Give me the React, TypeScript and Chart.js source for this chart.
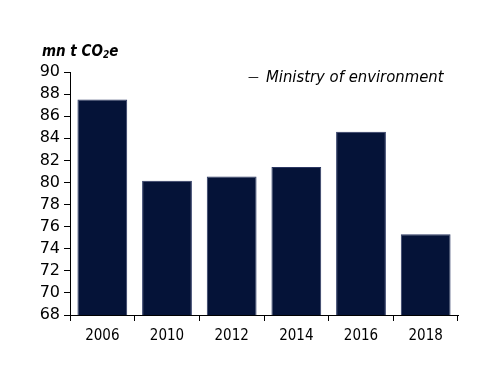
import React, { useEffect, useRef } from "react";
import { Chart, registerables } from "chart.js";

Chart.register(...registerables);

const categories = ["2006", "2010", "2012", "2014", "2016", "2018"];
const values = [87.5, 80.15, 80.55, 81.4, 84.6, 75.3];
const seriesName = "Ministry of environment";
const unitMain = "mn t CO";
const unitSub = "2";
const unitEnd = "e";
const yMin = 68;
const yMax = 90;
const yStep = 2;

const FONT = "'DejaVu Sans Condensed', 'DejaVu Sans', sans-serif";
const FONT_Y = "'DejaVu Sans', sans-serif";

const textPlugin = {
  id: "texts",
  afterDraw(chart: any) {
    const ctx = chart.ctx;
    ctx.save();
    ctx.fillStyle = "#000";
    ctx.textBaseline = "middle";
    ctx.textAlign = "left";
    // unit title
    let x = 42;
    const y = 52;
    ctx.font = `italic bold 15px ${FONT}`;
    ctx.fillText(unitMain, x, y);
    x += ctx.measureText(unitMain).width;
    ctx.font = `italic bold 10px ${FONT}`;
    ctx.fillText(unitSub, x, y + 3);
    x += ctx.measureText(unitSub).width;
    ctx.font = `italic bold 15px ${FONT}`;
    ctx.fillText(unitEnd, x, y);
    // legend
    ctx.font = `12px ${FONT}`;
    ctx.fillText("\u2014", 248, 78);
    ctx.font = `italic 16.5px ${FONT}`;
    ctx.fillText(seriesName, 266, 78);
    ctx.restore();
  },
};

export default function App() {
  const ref = useRef<HTMLCanvasElement>(null);
  useEffect(() => {
    if (!ref.current) return;
    const chart = new Chart(ref.current, {
      type: "bar",
      data: {
        labels: categories,
        datasets: [
          {
            label: seriesName,
            data: values,
            backgroundColor: "#051338",
            borderColor: "#2b3762",
            borderWidth: 1,
            barPercentage: 0.77,
            categoryPercentage: 1,
          },
        ],
      },
      options: {
        animation: false,
        responsive: false,
        layout: { padding: { left: 0, right: 42, top: 72, bottom: 41 } },
        plugins: {
          legend: { display: false },
          tooltip: { enabled: false },
        },
        scales: {
          x: {
            offset: true,
            grid: {
              offset: true,
              drawOnChartArea: false,
              drawTicks: true,
              tickLength: 6,
              color: "#000",
            },
            border: { display: true, color: "#000", width: 1 },
            ticks: {
              color: "#000",
              font: { family: FONT, size: 15 },
              padding: 6,
              autoSkip: false,
            },
            afterFit(scale: any) {
              scale.height = 30;
            },
          },
          y: {
            min: yMin,
            max: yMax,
            grid: {
              drawOnChartArea: false,
              drawTicks: true,
              tickLength: 6,
              color: "#000",
            },
            border: { display: true, color: "#000", width: 1 },
            ticks: {
              stepSize: yStep,
              autoSkip: false,
              color: "#000",
              font: { family: FONT_Y, size: 16 },
              padding: 4,
            },
            afterFit(scale: any) {
              scale.width = 70;
            },
          },
        },
      },
      plugins: [textPlugin],
    });
    return () => chart.destroy();
  }, []);
  return (
    <div style={{ position: "fixed", left: 0, top: 0, width: 500, height: 386, background: "#fff" }}>
      <canvas ref={ref} width={500} height={386} />
    </div>
  );
}
